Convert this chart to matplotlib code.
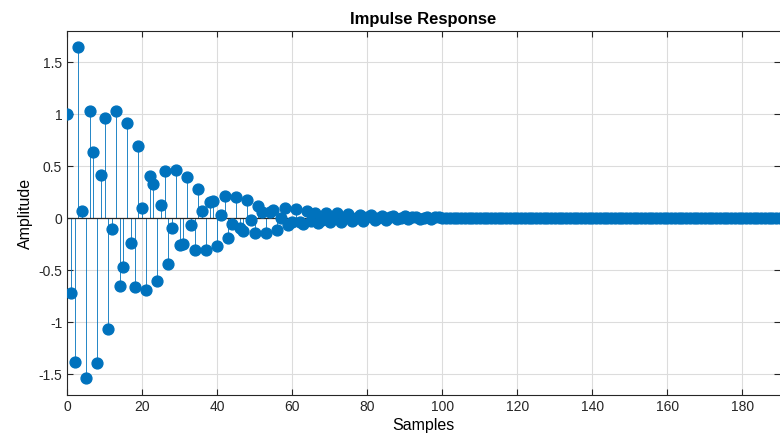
import matplotlib
matplotlib.use("Agg")
import matplotlib.pyplot as plt

# impulse response values, n = 0, 1, 2, ...
head = [1.0, -0.72, -1.385, 1.645, 0.07, -1.54, 1.035, 0.64, -1.39, 0.416,
        0.96, -1.07, -0.10, 1.035, -0.65, -0.47, 0.92, -0.24, -0.66, 0.69,
        0.10, -0.695, 0.404, 0.33, -0.605, 0.13, 0.455, -0.445, -0.09, 0.468,
        -0.256, -0.244, 0.40, -0.07, -0.31, 0.285, 0.07, -0.31, 0.157, 0.166,
        -0.266, 0.035, 0.21, -0.186, -0.058, 0.205, -0.09, -0.12, 0.176, -0.016,
        -0.14, 0.12, 0.055, -0.14, 0.055, 0.08, -0.115, 0.0, 0.10, -0.07,
        -0.04, 0.093, -0.04, -0.058, 0.07, -0.03, 0.05, -0.05, -0.02, 0.05,
        -0.04, 0.0, 0.05, -0.04, 0.01, 0.04, -0.03, 0.0, 0.03, -0.03,
        0.01, 0.03, -0.02, 0.0, 0.02, -0.02, 0.01, 0.02, -0.01, 0.0,
        0.02, -0.01, 0.01, 0.01, -0.01, 0.0, 0.01, -0.01, 0.01, 0.01]
tail = [0.0] * 100
response = head + tail
samples = list(range(len(response)))

plt.rcParams['font.family'] = ['Liberation Sans', 'DejaVu Sans']
plt.rcParams['axes.unicode_minus'] = False

fig = plt.figure(figsize=(7.8, 4.47), dpi=100)
ax = fig.add_axes([0.0859, 0.1163, 0.9141, 0.8143])

blue = '#0072BD'
markers, stems, base = ax.stem(samples, response)
plt.setp(stems, color=blue, linewidth=0.6)
plt.setp(markers, color=blue, markersize=7.8, zorder=3)
plt.setp(base, color='#262626', linewidth=0.9)

ax.set_xlim(0, 190)
ax.set_ylim(-1.7, 1.8)
ax.set_xticks(range(0, 181, 20))
ax.set_yticks([-1.5, -1, -0.5, 0, 0.5, 1, 1.5])
ax.set_yticklabels(['-1.5', '-1', '-0.5', '0', '0.5', '1', '1.5'])
ax.grid(True, color='#dcdcdc', linewidth=0.8)
ax.set_axisbelow(True)
ax.tick_params(direction='in', top=True, right=True, labelsize=10,
               colors='#262626', length=4)
for s in ax.spines.values():
    s.set_color('#262626')
    s.set_linewidth(0.8)
ax.spines['right'].set_visible(False)

ax.set_title('Impulse Response', fontsize=12, fontweight='bold', pad=5)
ax.set_xlabel('Samples', fontsize=11.5, labelpad=3)
ax.set_ylabel('Amplitude', fontsize=11.5, labelpad=4)

fig.savefig('out.png', dpi=100)
